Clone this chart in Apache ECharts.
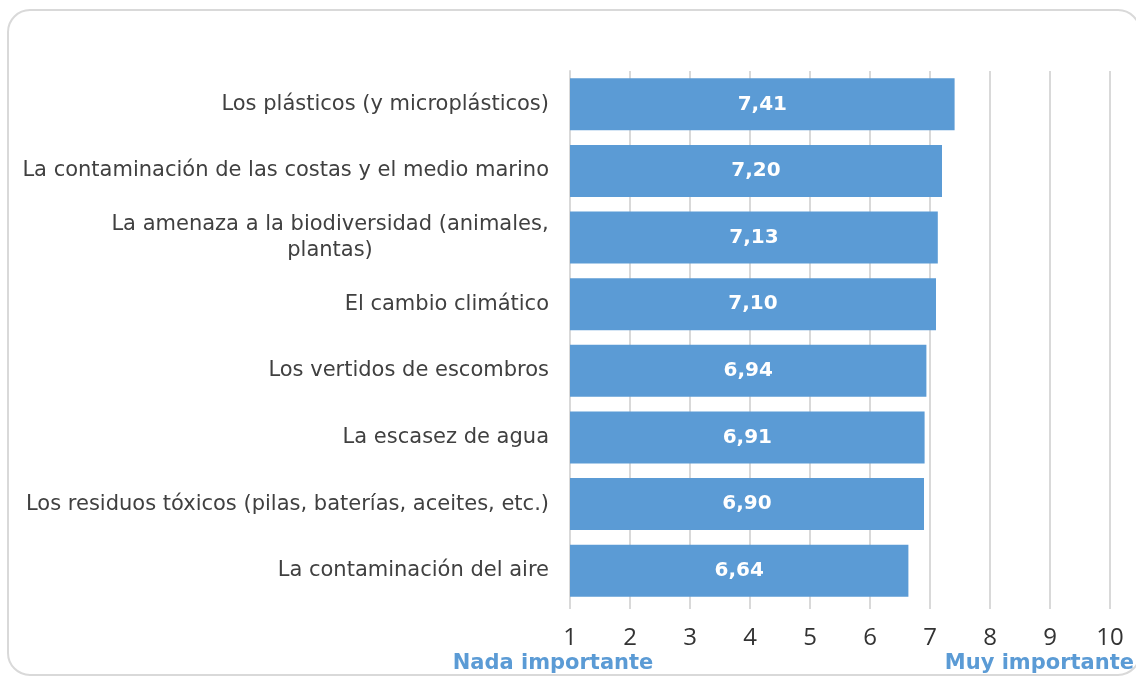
<!DOCTYPE html>
<html>
<head>
<meta charset="utf-8">
<script src="https://cdn.jsdelivr.net/npm/echarts@6/dist/echarts.min.js"></script>
<style>
  html, body { margin: 0; padding: 0; background: #fff; }
  #chart { width: 1136px; height: 677px; }
</style>
</head>
<body>
<div id="chart"></div>
<script>
var categories = [
  "Los plásticos (y microplásticos)",
  "La contaminación de las costas y el medio marino",
  "La amenaza a la biodiversidad (animales,\nplantas)",
  "El cambio climático",
  "Los vertidos de escombros",
  "La escasez de agua",
  "Los residuos tóxicos (pilas, baterías, aceites, etc.)",
  "La contaminación del aire"
];
var values = [7.41, 7.20, 7.13, 7.10, 6.94, 6.91, 6.90, 6.64];
var scaleMin = 1;
var scaleMax = 10;
var lowLabel = "Nada importante";
var highLabel = "Muy importante";

var labelFont = '21px "DejaVu Sans"';
// measure line widths so a wrapped label is centred line by line
var ctx = document.createElement("canvas").getContext("2d");
ctx.font = labelFont;
function lineWidth(s) { return Math.ceil(ctx.measureText(s).width); }

var myChart = echarts.init(document.getElementById("chart"));
var option = {
  animation: false,
  grid: { left: 570, right: 26, top: 71, bottom: 73, containLabel: false },
  xAxis: {
    type: "value",
    min: scaleMin,
    max: scaleMax,
    startValue: scaleMin,
    interval: 1,
    axisLine: { show: false },
    axisTick: { show: true, length: 5, lineStyle: { color: "#d9d9d9", width: 2 } },
    splitLine: { show: true, lineStyle: { color: "#d9d9d9", width: 2 } },
    axisLabel: {
      margin: 22,
      color: "#333333",
      fontFamily: "Open Sans",
      fontSize: 24
    }
  },
  yAxis: {
    type: "category",
    inverse: true,
    data: categories,
    axisLine: { show: true, lineStyle: { color: "#d9d9d9", width: 2 } },
    axisTick: { show: false },
    axisLabel: {
      margin: 21,
      color: "#404040",
      fontFamily: "DejaVu Sans",
      fontSize: 21,
      lineHeight: 26,
      formatter: function (v) {
        var lines = v.split("\n");
        if (lines.length === 1) return v;
        return lines.map(function (l) { return "{c|" + l + "}"; }).join("\n");
      },
      rich: {
        c: {
          width: lineWidth("La amenaza a la biodiversidad (animales,"),
          align: "center",
          color: "#404040",
          fontFamily: "DejaVu Sans",
          fontSize: 21,
          lineHeight: 26
        }
      }
    }
  },
  graphic: [
    {
      type: "rect",
      shape: { x: 8, y: 10, width: 1132, height: 665, r: 22 },
      style: { fill: "none", stroke: "#d9d9d9", lineWidth: 2 },
      silent: true
    },
    {
      type: "text",
      style: {
        text: lowLabel, x: 553, y: 664,
        fill: "#5b9bd5", font: 'bold 21px "DejaVu Sans"',
        align: "center", verticalAlign: "middle"
      }
    },
    {
      type: "text",
      style: {
        text: highLabel, x: 1134, y: 664,
        fill: "#5b9bd5", font: 'bold 21px "DejaVu Sans"',
        align: "right", verticalAlign: "middle"
      }
    }
  ],
  series: [
    {
      type: "bar",
      data: values,
      barCategoryGap: "22%",
      itemStyle: { color: "#5b9bd5" },
      label: {
        show: true,
        position: "inside",
        color: "#ffffff",
        fontFamily: "DejaVu Sans",
        fontWeight: "bold",
        fontSize: 20,
        formatter: function (p) { return p.value.toFixed(2).replace(".", ","); }
      }
    }
  ]
};
myChart.setOption(option);
</script>
</body>
</html>
